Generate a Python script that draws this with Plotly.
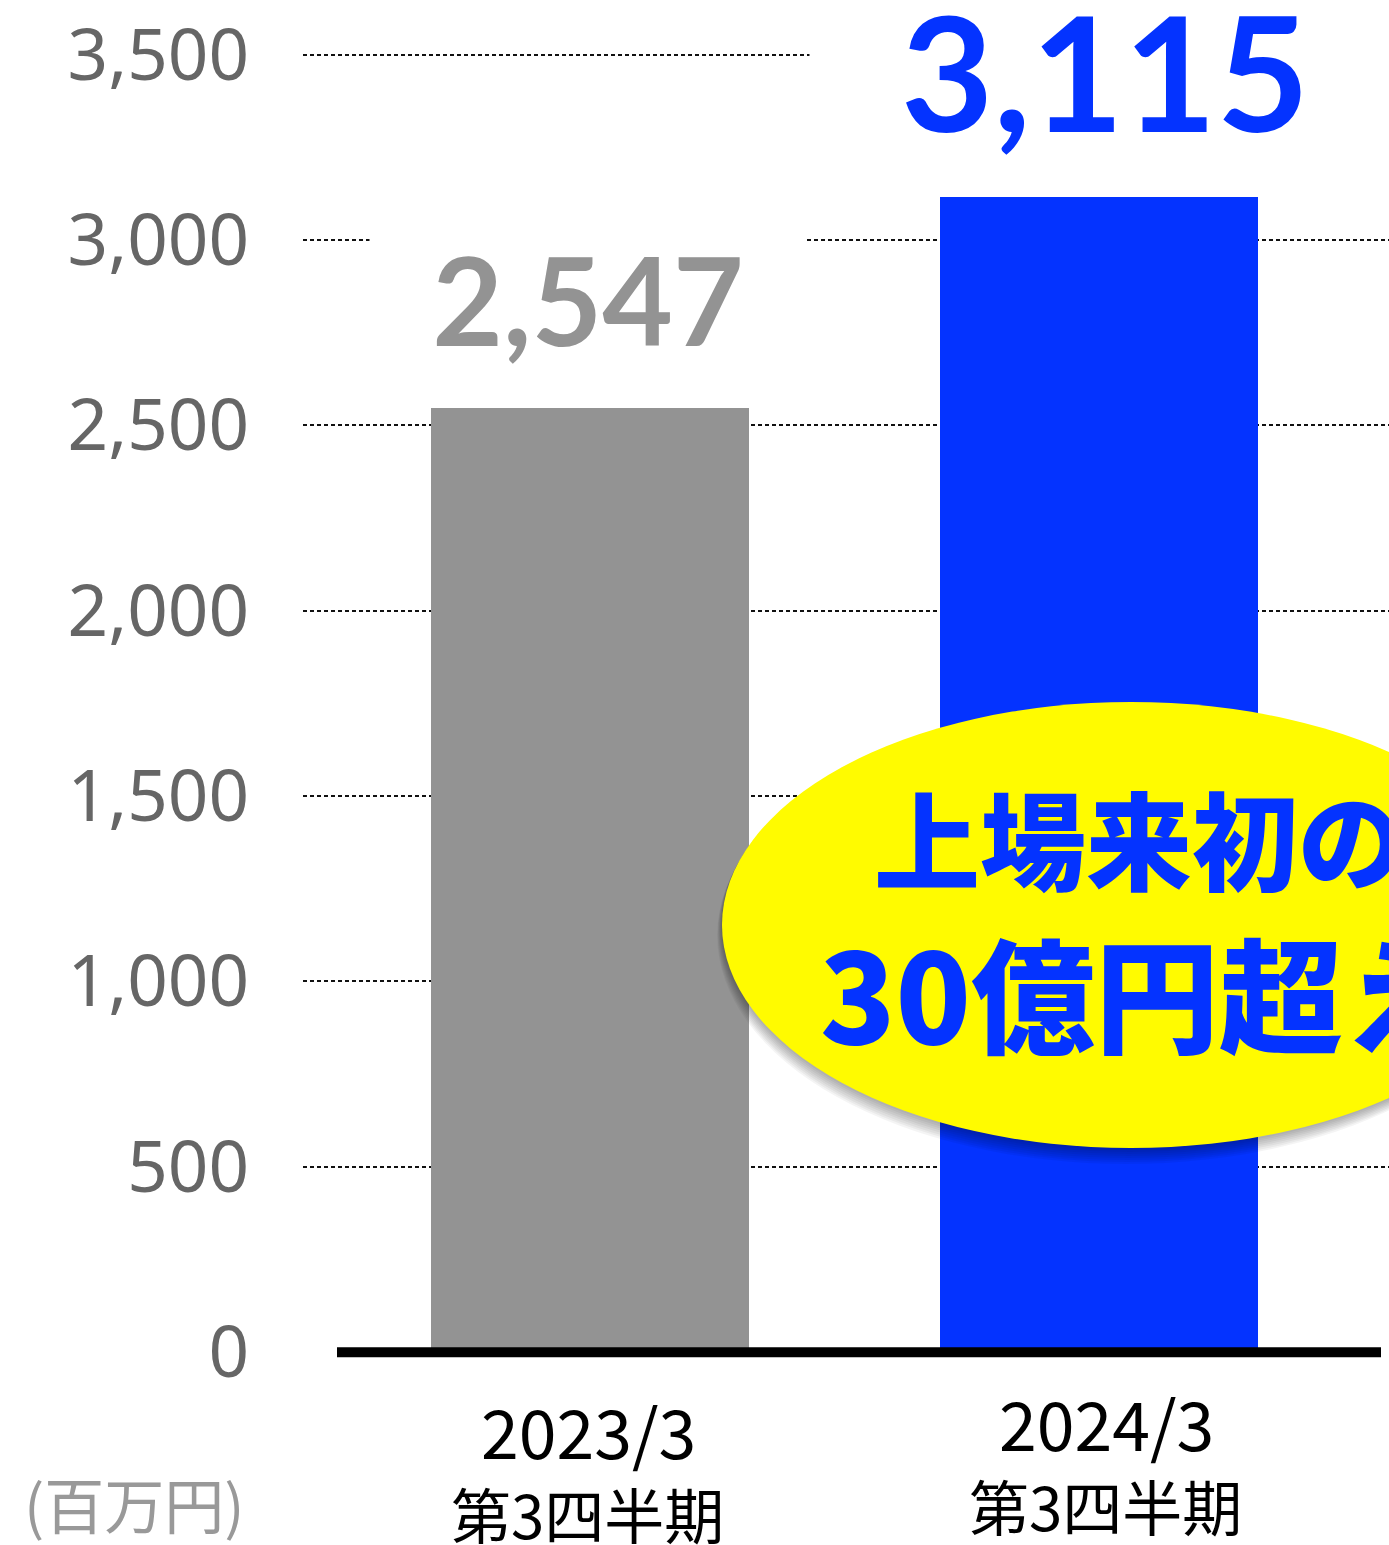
import plotly.graph_objects as go

# data
periods = ["2023/3", "2024/3"]
quarters = ["第3四半期", "第3四半期"]
sales = [2547, 3115]
value_labels = ["2,547", "3,115"]
bar_colors = ["#939393", "#0433ff"]
tick_vals = [0, 500, 1000, 1500, 2000, 2500, 3000, 3500]
tick_text = ["0", "500", "1,000", "1,500", "2,000", "2,500", "3,000", "3,500"]
unit_label = "(百万円)"
callout_lines = ["上場来初の", "30億円超え"]

W, H = 1389, 1545
# plot area in pixels (y range -40..3510)
PL, PR, PT, PB = 303, 1389, 51, 1367


def px_x(x):
    return (x - PL) / (PR - PL)


def px_y(y):
    return (PB - y) / (PB - PT)


BLUE = "#0433ff"

fig = go.Figure()

fig.add_trace(go.Bar(
    x=periods,
    y=sales,
    width=0.625,
    marker=dict(color=bar_colors, line=dict(width=0)),
    hoverinfo="skip",
))

shapes = []
# hide the dotted zero gridline outside the baseline
for a, b in [(0, px_x(340)), (px_x(1378), 1)]:
    shapes.append(dict(
        type="line", xref="paper", yref="y",
        x0=a, x1=b, y0=0, y1=0,
        line=dict(color="white", width=4), layer="above",
    ))
# thick baseline at zero
shapes.append(dict(
    type="line", xref="paper", yref="y",
    x0=px_x(337), x1=px_x(1381), y0=0, y1=0,
    line=dict(color="black", width=10), layer="above",
))

# callout ellipse with a soft drop shadow
ex0, ex1, ey0, ey1 = 722, 1540, 702, 1148
for k in range(1, 9):
    dy = 2 * k
    dx = -0.3 * dy
    shapes.append(dict(
        type="circle", xref="paper", yref="paper",
        x0=px_x(ex0 + dx), x1=px_x(ex1 + dx),
        y0=px_y(ey1 + dy), y1=px_y(ey0 + dy * 0.3),
        fillcolor="black", opacity=0.045, line=dict(width=0), layer="above",
    ))
shapes.append(dict(
    type="circle", xref="paper", yref="paper",
    x0=px_x(ex0), x1=px_x(ex1), y0=px_y(ey1), y1=px_y(ey0),
    fillcolor="#fffb00", line=dict(width=0), layer="above",
))

annotations = []
# value labels above bars (white box hides gridlines behind them)
annotations.append(dict(
    x=periods[0], y=sales[0], xref="x", yref="y",
    text=value_labels[0], showarrow=False,
    yanchor="bottom", yshift=35, xshift=-2,
    width=436, bgcolor="white", borderpad=0,
    font=dict(family="Lato", size=122, color=bar_colors[0], weight="bold"),
))
annotations.append(dict(
    x=periods[1], y=sales[1], xref="x", yref="y",
    text=value_labels[1], showarrow=False,
    yanchor="bottom", yshift=30, xshift=6,
    width=590, bgcolor="white", borderpad=0,
    font=dict(family="Lato", size=160, color=BLUE, weight="bold"),
))

# category labels
line1_y = [1429, 1421]
line2_y = [1512, 1504]
label_shift = [-2, 8]
for i, p in enumerate(periods):
    annotations.append(dict(
        x=p, y=px_y(line1_y[i]), xref="x", yref="paper",
        text=p, showarrow=False, yanchor="middle", xshift=label_shift[i],
        font=dict(family="Noto Sans CJK JP", size=68, color="black"),
    ))
    annotations.append(dict(
        x=p, y=px_y(line2_y[i]), xref="x", yref="paper",
        text=quarters[i], showarrow=False, yanchor="middle", xshift=label_shift[i] - 1,
        font=dict(family="Noto Sans CJK JP", size=60, color="black"),
    ))

# unit
annotations.append(dict(
    x=px_x(247), y=px_y(1502), xref="paper", yref="paper",
    text=unit_label, showarrow=False, xanchor="right", yanchor="middle",
    font=dict(family="Noto Sans CJK JP", size=60, color="#999999"),
))

# callout text
annotations.append(dict(
    x=px_x(872), y=px_y(836), xref="paper", yref="paper",
    text=callout_lines[0], showarrow=False, xanchor="left", yanchor="middle",
    font=dict(family="Noto Sans CJK JP", size=106, color=BLUE, weight=900),
))
annotations.append(dict(
    x=px_x(818), y=px_y(990), xref="paper", yref="paper",
    text=callout_lines[1], showarrow=False, xanchor="left", yanchor="middle",
    font=dict(family="Noto Sans CJK JP", size=124, color=BLUE, weight=900),
))

fig.update_layout(
    width=W, height=H,
    margin=dict(l=PL, r=W - PR, t=PT, b=H - PB, pad=0),
    paper_bgcolor="white",
    plot_bgcolor="white",
    showlegend=False,
    bargap=0,
    xaxis=dict(
        range=[-0.564, 1.570],
        showticklabels=False, showgrid=False, zeroline=False,
        showline=False, ticks="",
    ),
    yaxis=dict(
        range=[-40, 3510],
        tickvals=tick_vals, ticktext=tick_text,
        tickfont=dict(family="Noto Sans", size=71, color="#666666"),
        ticks="", ticklabelstandoff=53,
        showgrid=True, gridcolor="#111111", gridwidth=2, griddash="4px,3px",
        zeroline=False, showline=False,
    ),
    shapes=shapes,
    annotations=annotations,
)

# remove the default page margin so the chart sits at the window's top-left
fig.write_html(
    "out.html",
    config={"displayModeBar": False},
    post_script="document.body.style.margin='0';",
)
